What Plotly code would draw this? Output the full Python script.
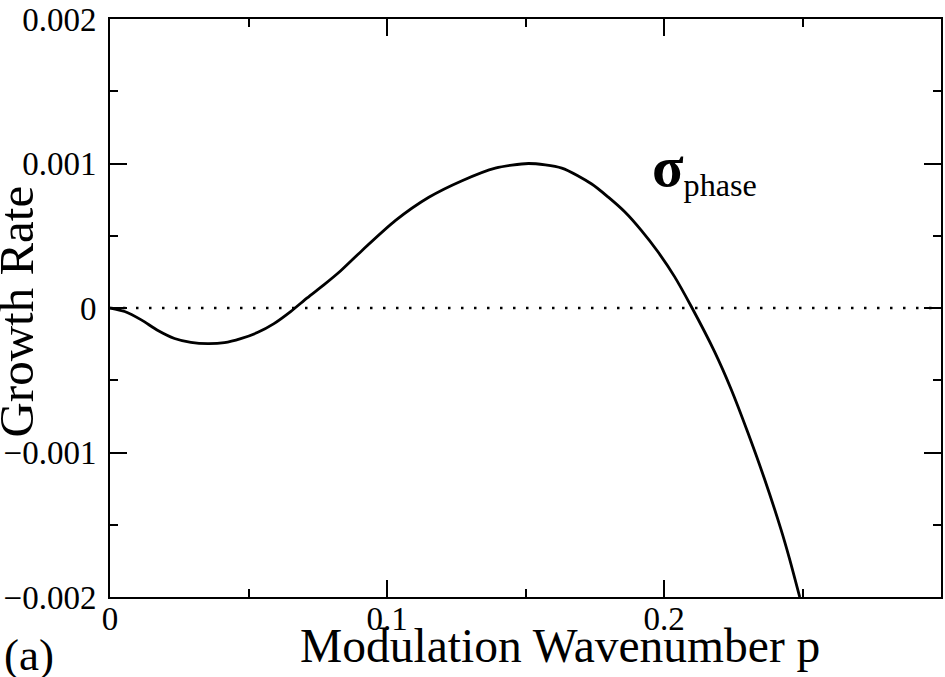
import plotly.graph_objects as go

# Data
p = [0, 0.0053, 0.0113, 0.0173, 0.0233, 0.0292, 0.0353, 0.0413, 0.0472, 0.0532,
     0.0592, 0.0652, 0.0712, 0.0772, 0.0832, 0.0911, 0.1031, 0.1151, 0.1271,
     0.1391, 0.1511, 0.1631, 0.1739, 0.1799, 0.1859, 0.1918, 0.1978, 0.2038,
     0.2098, 0.2182, 0.2242, 0.2302, 0.2362, 0.2422, 0.2452, 0.2490]
growth = [0, -0.000024, -0.000082, -0.000156, -0.000211, -0.000238, -0.000247,
          -0.00024, -0.000212, -0.00017, -0.000108, -0.000025, 0.00007, 0.00016,
          0.000256, 0.0004, 0.000606, 0.000766, 0.000881, 0.000968, 0.001, 0.000968,
          0.000858, 0.000767, 0.000664, 0.000537, 0.000389, 0.000217, 0.000012,
          -0.0003, -0.00056, -0.000858, -0.001178, -0.00153, -0.001727, -0.00200]
zero_p = [0, 0.3]
zero_g = [0, 0]

x_ticks = [0, 0.1, 0.2]
x_labels = ['0', '0.1', '0.2']
y_ticks = [-0.002, -0.001, 0, 0.001, 0.002]
y_labels = ['\u22120.002', '\u22120.001', '0', '0.001', '0.002']

font = 'Liberation Serif'
tick_font = dict(family = font, size = 33, color = 'black')

zero_trace = go.Scatter(
    x = zero_p, y = zero_g,
    mode = 'lines',
    line = dict(color = 'black', width = 2.5, dash = '2.5px,10.5px'),
    hoverinfo = 'none',
    showlegend = False)

curve_trace = go.Scatter(
    x = p, y = growth,
    mode = 'lines',
    line = dict(color = 'black', width = 2.8, shape = 'spline', smoothing = 0.7),
    showlegend = False)

axis_common = dict(
    showgrid = False, zeroline = False,
    showline = True, linecolor = 'black', linewidth = 2,
    mirror = 'allticks',
    ticks = 'inside', ticklen = 17, tickwidth = 1.5, tickcolor = 'black',
    ticklabeloverflow = 'allow')

fig = go.Figure(data = [zero_trace, curve_trace],
    layout = go.Layout(
        width = 945, height = 677,
        font = dict(family = font, color = 'black'),
        plot_bgcolor = 'white', paper_bgcolor = 'white',
        showlegend = False,
        margin = dict(l = 110, r = 2, t = 14, b = 80),
        xaxis = dict(axis_common, range = [0, 0.3],
                     tickvals = x_ticks, ticktext = x_labels,
                     tickfont = tick_font,
                     ticklabelstandoff = -9,
                     minor = dict(dtick = 0.05, tick0 = 0, ticks = 'inside', ticklen = 8,
                                  tickwidth = 1.5, tickcolor = 'black')),
        yaxis = dict(axis_common, range = [-0.002, 0.002],
                     tickvals = y_ticks, ticktext = y_labels,
                     tickfont = tick_font,
                     ticklabelstandoff = 5,
                     minor = dict(dtick = 0.0005, tick0 = 0, ticks = 'inside', ticklen = 8,
                                  tickwidth = 1.5, tickcolor = 'black'))))

fig.add_annotation(x = 0.541, y = -0.084, xref = 'paper', yref = 'paper',
                   text = 'Modulation Wavenumber p', showarrow = False,
                   xanchor = 'center', yanchor = 'middle',
                   font = dict(family = font, size = 47.5, color = 'black'))
fig.add_annotation(x = -0.113, y = 0.494, xref = 'paper', yref = 'paper',
                   text = 'Growth Rate', textangle = -90, showarrow = False,
                   xanchor = 'center', yanchor = 'middle',
                   font = dict(family = font, size = 49, color = 'black'))
fig.add_annotation(x = -0.097, y = -0.1, xref = 'paper', yref = 'paper',
                   text = '(a)', showarrow = False,
                   xanchor = 'center', yanchor = 'middle',
                   font = dict(family = font, size = 45, color = 'black'))
fig.add_annotation(x = 0.195, y = 0.000965, xref = 'x', yref = 'y',
                   text = '<span style="font-size:58px"><b>\u03c3</b></span><sub>phase</sub>',
                   showarrow = False,
                   xanchor = 'left', yanchor = 'middle',
                   font = dict(family = font, size = 46, color = 'black'))

fig.write_html('out.html', config = {'displayModeBar': False},
               post_script = "document.body.style.margin = '0';")
